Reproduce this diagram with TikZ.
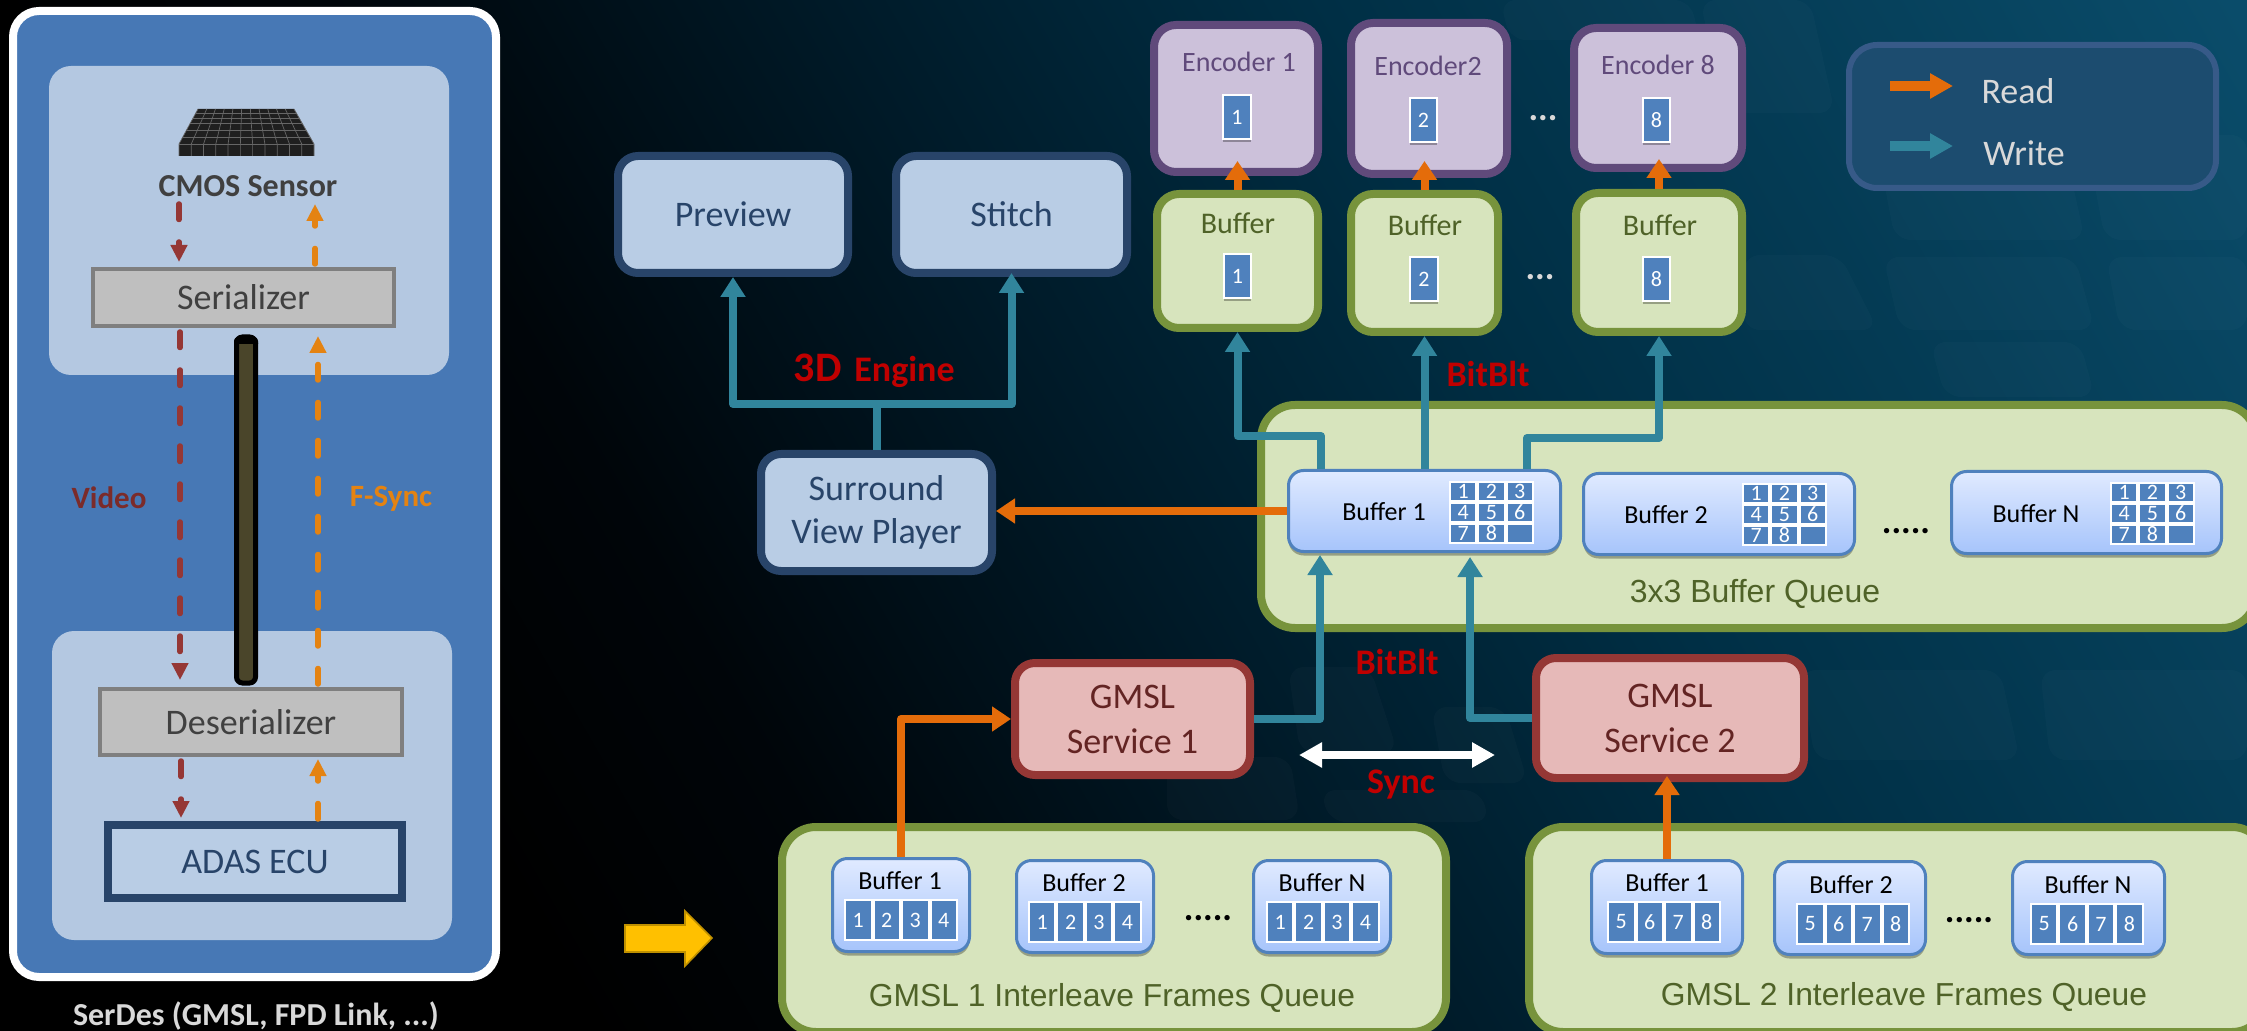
\documentclass[tikz,border=0pt]{standalone}
\usepackage{fontspec}
\setmainfont{Carlito}
\newfontfamily\arialf{Liberation Sans}
\usetikzlibrary{arrows.meta,shadows,calc}
\definecolor{panelblue}{HTML}{4778B5}
\definecolor{panellight}{HTML}{B4C8E1}
\definecolor{navyb}{HTML}{284469}
\definecolor{boxblue}{HTML}{B9CDE5}
\definecolor{grayedge}{HTML}{7F7F7F}
\definecolor{grayfill}{HTML}{BFBFBF}
\definecolor{graytext}{HTML}{404040}
\definecolor{vidred}{HTML}{953735}
\definecolor{vidtext}{HTML}{7B2B2A}
\definecolor{fsync}{HTML}{E48312}
\definecolor{cablefill}{HTML}{4A452A}
\definecolor{encedge}{HTML}{604A7B}
\definecolor{encfill}{HTML}{CCC1DA}
\definecolor{grnedge}{HTML}{77933C}
\definecolor{grnfill}{HTML}{D7E4BD}
\definecolor{grntext}{HTML}{4F6228}
\definecolor{rededge}{HTML}{953735}
\definecolor{redfill}{HTML}{E6B9B8}
\definecolor{redtext}{HTML}{632423}
\definecolor{cellblue}{HTML}{4F81BD}
\definecolor{readc}{HTML}{E46C0A}
\definecolor{writec}{HTML}{31859C}
\definecolor{alert}{HTML}{C00000}
\definecolor{legfill}{HTML}{1C4C6F}
\definecolor{legedge}{HTML}{375A88}
\definecolor{ltgray}{HTML}{D9D9D9}
\definecolor{yelfill}{HTML}{FFC000}
\definecolor{yeledge}{HTML}{BF9000}
\definecolor{bgA}{HTML}{000509}
\definecolor{bgB}{HTML}{001A28}
\definecolor{bgC}{HTML}{002F45}
\definecolor{bgD}{HTML}{0A4C6A}
\definecolor{innerT}{HTML}{E0EAFF}
\definecolor{innerB}{HTML}{A6C4FB}
\pgfdeclarehorizontalshading{bgshade}{100bp}{color(0bp)=(black); color(30bp)=(black); color(38bp)=(bgA); color(50bp)=(bgB); color(62bp)=(bgC); color(84bp)=(bgD); color(100bp)=(bgD)}
\newcommand\bx[8][8]{\node[#2,line width=#1*0.5pt,minimum width={(#6-#4-#1)*0.5pt},minimum height={(#7-#5-#1)*0.5pt}] (#3) at ({(#4+#6)/2},{(#5+#7)/2}) {#8};}
% row of n cells: prefix, x1, y1, y2, cell width, list
\newcommand\cellrow[6]{\foreach \cv [count=\ci] in {#6}{\node[cell,minimum width={(#5-2)*0.5pt},minimum height={((#4)-(#3)-2)*0.5pt}] (#1c\ci) at ({#2+(\ci-0.5)*#5},{((#3)+(#4))/2}) {\cv};}}
\newcommand\cellgrid[3]{%
 \cellrow{#1a}{#2}{#3}{#3+21}{28.3}{1,2,3}
 \cellrow{#1b}{#2}{#3+21}{#3+42}{28.3}{4,5,6}
 \cellrow{#1d}{#2}{#3+42}{#3+63}{28.3}{7,8,{}}}
\tikzset{
 fsz/.style={font=\fontsize{#1}{22.5}\selectfont},
 every node/.append style={inner sep=0pt},
 bluebox/.style={draw=navyb,fill=boxblue,rounded corners=10pt,text=navyb,fsz=18,align=center},
 encbox/.style={draw=encedge,fill=encfill,rounded corners=11pt},
 grnbox/.style={draw=grnedge,fill=grnfill,rounded corners=11pt},
 qbox/.style={draw=grnedge,fill=grnfill,rounded corners=17pt},
 redbox/.style={draw=rededge,fill=redfill,rounded corners=10pt,text=redtext,fsz=18,align=center},
 inbuf/.style={draw=cellblue,top color=innerT,bottom color=innerB,rounded corners=7.5pt,drop shadow={shadow xshift=0pt,shadow yshift=-2pt,opacity=.3,fill=black}},
 cell/.style={draw=white,line width=1pt,fill=cellblue,text=white,fsz=11},
 tile/.style={cell,drop shadow={shadow xshift=0pt,shadow yshift=-1.5pt,opacity=.3,fill=black}},
 grayrect/.style={draw=grayedge,fill=grayfill,text=graytext,fsz=18},
 lightpanel/.style={fill=panellight,rounded corners=11pt},
 rd/.style={draw=readc,line width=4pt,line join=round,-{Triangle[width=12pt,length=9.5pt]}},
 wr/.style={draw=writec,line width=4pt,line join=round,-{Triangle[width=12pt,length=10pt]}},
 vid/.style={draw=vidred,line width=2.75pt,line cap=round,dash pattern=on 7.75pt off 11.25pt,-{Triangle[width=8pt,length=8.5pt]}},
 fs/.style={draw=fsync,line width=2.75pt,line cap=round,dash pattern=on 7.75pt off 11.25pt,-{Triangle[width=8pt,length=8.5pt]}},
 smalltext/.style={fsz=13,text=black},
 dots/.style={text=black,font=\fontsize{18}{22.5}\bfseries\selectfont},
 alertlab/.style={text=alert,font=\fontsize{18}{22.5}\bfseries\selectfont},
 qlab/.style={text=grntext,font=\arialf\fontsize{15.9}{20}\selectfont},
 faint/.style={fill=white,fill opacity=.02,rounded corners=8pt},
}
\begin{document}
\begin{tikzpicture}[x=0.5pt,y=-0.5pt]
\path[use as bounding box,clip] (0,0) rectangle (2247,1031);
\shade[shading=bgshade,shading angle=30] (0,0) rectangle (2247,1031);
% faint background tiles
\fill[faint] (1875,135) -- (2062,135) -- (2085,240) -- (1895,240) -- cycle;
\fill[faint] (2085,135) -- (2247,135) -- (2247,240) -- (2105,240) -- cycle;
\fill[faint] (1744,255) -- (1840,255) -- (1878,330) -- (1744,330) -- cycle;
\fill[faint] (1883,257) -- (2075,257) -- (2095,330) -- (1900,330) -- cycle;
\fill[faint] (2106,257) -- (2247,257) -- (2247,330) -- (2120,330) -- cycle;
\fill[faint] (1930,342) -- (2080,342) -- (2095,397) -- (1945,397) -- cycle;
\fill[faint] (1700,0) -- (1810,0) -- (1835,113) -- (1725,113) -- cycle;
\fill[faint] (1500,0) -- (1690,0) -- (1700,40) -- (1510,40) -- cycle;
\fill[faint] (1288,667) -- (1370,667) -- (1398,753) -- (1300,753) -- cycle;
\fill[faint] (1431,707) -- (1505,707) -- (1528,783) -- (1445,783) -- cycle;
\fill[faint] (1167,757) -- (1290,757) -- (1300,820) -- (1167,820) -- cycle;
\fill[faint] (1320,790) -- (1480,790) -- (1490,822) -- (1330,822) -- cycle;
\fill[faint] (1800,670) -- (2000,670) -- (2020,760) -- (1815,760) -- cycle;
\fill[faint] (2040,670) -- (2247,670) -- (2247,760) -- (2050,760) -- cycle;
% left panel
\bx{draw=white,fill=panelblue,rounded corners=13pt}{panel}{9}{7}{500}{981}{}
\node[lightpanel,minimum width=200pt,minimum height=154.5pt] (topp) at (249,220.5) {};
\node[lightpanel,minimum width=200pt,minimum height=154.5pt] (botp) at (252,785.5) {};
% sensor
\fill[black!88] (198,109) -- (294,109) -- (314,144) -- (314,156) -- (179,156) -- (179,144) -- cycle;
\foreach \i in {0,...,11}{
 \draw[white!40!black,line width=.35pt] ({198+\i*96/11},109) -- ({179+\i*135/11},144) -- ({179+\i*135/11},156);}
\foreach \j in {0.12,0.26,0.42,0.6,0.8,1}{
 \draw[white!40!black,line width=.35pt] ({198-19*\j},{109+35*\j}) -- ({294+20*\j},{109+35*\j});}
\node[text=graytext,font=\fontsize{16}{18}\bfseries\selectfont] (cmos) at (248,186) {CMOS Sensor};
\bx[4]{grayrect}{ser}{91}{267}{396}{328}{Serializer}
\bx[4]{grayrect}{des}{98}{687}{404}{757}{Deserializer}
\bx{draw=navyb,fill=boxblue,text=navyb,fsz=18}{adas}{104}{821}{406}{902}{ADAS ECU}
% cable
\draw[black,fill=cablefill,line width=2.5pt,rounded corners=3pt] (236.5,337) rectangle (255.5,683);
\fill[black] (234,344) -- (234,341) .. controls (234,333) and (258,333) .. (258,341) -- (258,344) -- cycle;
\node[text=vidtext,font=\fontsize{15.5}{18}\bfseries\selectfont] (vidl) at (109,498) {Video};
\node[text=fsync,font=\fontsize{15.5}{18}\bfseries\selectfont] (fsl) at (391,499) {F-Sync};
\node[text=ltgray,font=\fontsize{16}{18}\bfseries\selectfont] (serdes) at (256,1016) {SerDes (GMSL, FPD Link, ...)};
\coordinate (v1a) at (179,204); \coordinate (v1b) at (179,262);
\coordinate (v2a) at (180,332); \coordinate (v2b) at (180,680);
\coordinate (v3a) at (181,761); \coordinate (v3b) at (181,818);
\coordinate (f1a) at (315,264); \coordinate (f1b) at (315,204);
\coordinate (f2a) at (318,684); \coordinate (f2b) at (318,336);
\coordinate (f3a) at (318,819); \coordinate (f3b) at (318,759);
\draw[vid] (v1a) -- (v1b); \draw[vid] (v2a) -- (v2b); \draw[vid] (v3a) -- (v3b);
\draw[fs] (f1a) -- (f1b); \draw[fs] (f2a) -- (f2b); \draw[fs] (f3a) -- (f3b);
% yellow arrow
\fill[fill=yelfill,draw=yeledge,line width=.8pt] (625,925) -- (685,925) -- (685,911) -- (712,938) -- (685,966) -- (685,952) -- (625,952) -- cycle;
% top row
\bx{bluebox}{prev}{614}{152}{852}{277}{Preview}
\bx{bluebox}{stitch}{892}{152}{1131}{277}{Stitch}
\bx{bluebox}{sv}{757}{450}{996}{575}{\raisebox{-3pt}{Surround}\\[0pt]\raisebox{-2pt}{View Player}}
\bx{encbox}{enc1}{1150}{21}{1322}{176}{}
\bx{encbox}{enc2}{1347}{19}{1511}{178}{}
\bx{encbox}{enc8}{1570}{24}{1746}{172}{}
\node[text=encedge,fsz=14] (enc1l) at (1239,62) {Encoder 1};
\node[text=encedge,fsz=14] (enc2l) at (1428,66) {Encoder2};
\node[text=encedge,fsz=14] (enc8l) at (1658,65) {Encoder 8};
\bx[2]{tile}{enc1n}{1222}{94}{1252}{140}{1}
\bx[2]{tile}{enc2n}{1409}{97}{1438}{143}{2}
\bx[2]{tile}{enc8n}{1642}{97}{1671}{143}{8}
\bx{grnbox}{buf1}{1153}{190}{1322}{332}{}
\bx{grnbox}{buf2}{1347}{190}{1502}{336}{}
\bx{grnbox}{buf8}{1572}{189}{1746}{336}{}
\node[text=grntext,fsz=15] (buf1l) at (1238,223) {Buffer};
\node[text=grntext,fsz=15] (buf2l) at (1425,225) {Buffer};
\node[text=grntext,fsz=15] (buf8l) at (1660,225) {Buffer};
\bx[2]{tile}{buf1n}{1223}{253}{1252}{299}{1}
\bx[2]{tile}{buf2n}{1409}{256}{1439}{302}{2}
\bx[2]{tile}{buf8n}{1642}{256}{1671}{302}{8}
\node[dots,text=ltgray] (encdots) at (1543,118) {...};
\node[dots,text=ltgray] (bufdots) at (1540,277) {...};
% legend
\bx[6]{draw=legedge,fill=legfill,rounded corners=14pt}{legend}{1846}{42}{2219}{191}{}
\coordinate (rda) at (1890,86); \coordinate (rdb) at (1953,86);
\coordinate (wra) at (1890,146); \coordinate (wrb) at (1953,146);
\draw[draw=readc,line width=5pt,-{Triangle[width=12pt,length=11.5pt]}] (rda) -- (rdb);
\draw[draw=writec,line width=5pt,-{Triangle[width=12pt,length=11.5pt]}] (wra) -- (wrb);
\node[text=ltgray,fsz=18] (readl) at (2018,91) {Read};
\node[text=ltgray,fsz=18] (writel) at (2024,153) {Write};
% 3x3 queue
\bx{qbox}{q33}{1257}{401}{2260}{632}{}
\node[qlab,font=\arialf\fontsize{16}{20}\selectfont] (q33l) at (1755,594) {3x3 Buffer Queue};
\bx[3]{inbuf}{qb1}{1287}{469}{1562}{553}{}
\bx[3]{inbuf}{qb2}{1582}{472}{1856}{556}{}
\bx[3]{inbuf}{qbn}{1950}{470}{2223}{555}{}
\node[smalltext] (qb1l) at (1384,512) {Buffer 1};
\node[smalltext] (qb2l) at (1666,515) {Buffer 2};
\node[smalltext] (qbnl) at (2036,514) {Buffer N};
\cellgrid{qa}{1449}{481}
\cellgrid{qe}{1742}{483}
\cellgrid{qn}{2110}{482}
\node[dots] (qdots) at (1906,531) {.....};
% services
\bx{redbox}{gs1}{1011}{659}{1254}{779}{\raisebox{-1pt}{GMSL}\\\raisebox{-1pt}{Service 1}}
\bx{redbox}{gs2}{1532}{654}{1808}{782}{GMSL\\Service 2}
% gmsl queues
\bx{qbox}{g1}{778}{823}{1450}{1036}{}
\bx{qbox}{g2}{1525}{823}{2270}{1036}{}
\node[qlab] (g1l) at (1112,998) {GMSL 1 Interleave Frames Queue};
\node[qlab] (g2l) at (1904,997) {GMSL 2 Interleave Frames Queue};
\bx[3]{inbuf}{gab1}{831}{857}{971}{953}{}
\bx[3]{inbuf}{gab2}{1015}{859}{1155}{954}{}
\bx[3]{inbuf}{gabn}{1252}{859}{1392}{954}{}
\bx[3]{inbuf}{gbb1}{1590}{859}{1744}{955}{}
\bx[3]{inbuf}{gbb2}{1773}{860}{1927}{956}{}
\bx[3]{inbuf}{gbbn}{2011}{860}{2166}{956}{}
\node[smalltext] (gab1l) at (900,881) {Buffer 1};
\node[smalltext] (gab2l) at (1084,883) {Buffer 2};
\node[smalltext] (gabnl) at (1322,883) {Buffer N};
\node[smalltext] (gbb1l) at (1667,883) {Buffer 1};
\node[smalltext] (gbb2l) at (1851,885) {Buffer 2};
\node[smalltext] (gbbnl) at (2088,885) {Buffer N};
\cellrow{ga1}{844}{899}{941}{28.5}{1,2,3,4}
\cellrow{ga2}{1028}{901}{943}{28.4}{1,2,3,4}
\cellrow{gan}{1266}{901}{943}{28.4}{1,2,3,4}
\cellrow{gb1}{1607}{901}{943}{28.5}{5,6,7,8}
\cellrow{gb2}{1796}{903}{945}{28.5}{5,6,7,8}
\cellrow{gbn}{2030}{903}{945}{28.4}{5,6,7,8}
\node[dots] (gadots) at (1208,918) {.....};
\node[dots] (gbdots) at (1969,920) {.....};
% connectors
\draw[wr] (sv.north) -- ++(0,-46) -| (prev.south);
\draw[wr] (sv.north) -- ++(0,-46) -| ($(stitch.south)+(0,-4)$);
\draw[rd] (buf1.north) -- ($(buf1.north |- enc1.south)+(0,-15)$);
\draw[rd] (buf2.north) -- ($(buf2.north |- enc2.south)+(0,-17)$);
\draw[rd] (buf8.north) -- ($(buf8.north |- enc8.south)+(0,-13)$);
\coordinate (qbl) at (1321,469); \coordinate (qbr) at (1527,469);
\draw[wr] (qbl) -- ++(0,-33) -| (buf1.south);
\draw[wr] (qb1.north) -- (buf2.south);
\draw[wr] (qbr) -- ++(0,-31) -| (buf8.south);
\draw[rd] (qb1.west) -- (qb1.west -| sv.east);
\coordinate (qi1) at (1320,555); \coordinate (qi2) at (1470,557);
\draw[wr] (gs1.east) -| (qi1);
\draw[wr] (gs2.west) -| (qi2);
\draw[rd] (gab1.north) |- (gs1.west);
\draw[rd] (gbb1.north) -- ($(gbb1.north |- gs2.south)+(0,-6)$);
\coordinate (sa) at (1299,755); \coordinate (sb) at (1495,755);
\draw[draw=white,line width=4pt,{Triangle[width=12pt,length=11.5pt]}-{Triangle[width=12pt,length=11.5pt]}] (sa) -- (sb);
% red labels
\node[alertlab] (bb1) at (1488,374) {BitBlt};
\node[alertlab] (bb2) at (1397,662) {BitBlt};
\node[alertlab] (syncl) at (1401,785) {Sync};
\node[text=alert,font=\fontsize{21}{24}\bfseries\selectfont,anchor=base east] (e3d) at (842,382) {3D};
\node[text=alert,font=\fontsize{18}{24}\bfseries\selectfont,anchor=base west] (eng) at (854,382) {Engine};
\end{tikzpicture}
\end{document}
